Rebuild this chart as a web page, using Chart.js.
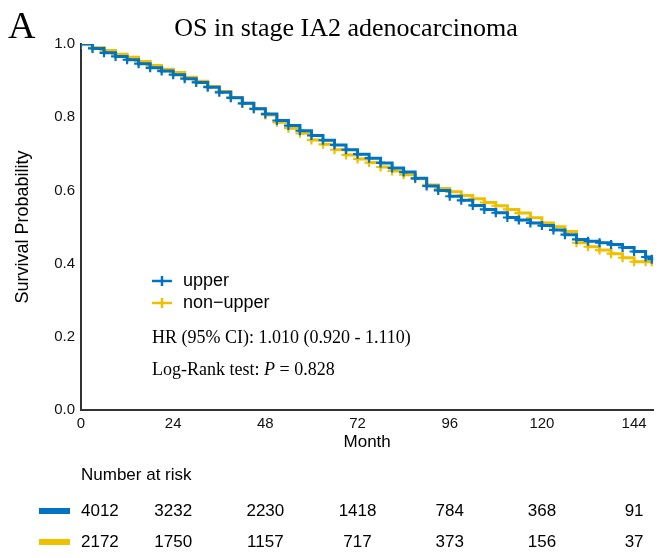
<!DOCTYPE html>
<html>
<head>
<meta charset="utf-8">
<script src="https://cdn.jsdelivr.net/npm/chart.js@4/dist/chart.umd.min.js"></script>
<style>
  html, body { margin: 0; padding: 0; background: #fff; }
  #wrap { width: 660px; height: 558px; position: relative; }
</style>
</head>
<body>
<div id="wrap"><canvas id="km" width="660" height="558"></canvas></div>
<script>
const months = [0, 3, 6, 9, 12, 15, 18, 21, 24, 27, 30, 33, 36, 39, 42, 45, 48, 51, 54, 57, 60,
  63, 66, 69, 72, 75, 78, 81, 84, 87, 90, 93, 96, 99, 102, 105, 108, 111, 114, 117, 120,
  123, 126, 129, 132, 135, 138, 141, 144, 147, 148.6];

const upper = [1.000, 0.988, 0.976, 0.966, 0.957, 0.946, 0.935, 0.926, 0.916, 0.905, 0.895,
  0.882, 0.868, 0.853, 0.838, 0.823, 0.809, 0.791, 0.777, 0.763, 0.750,
  0.737, 0.724, 0.711, 0.699, 0.688, 0.675, 0.661, 0.650, 0.633, 0.612,
  0.600, 0.584, 0.573, 0.559, 0.548, 0.539, 0.526, 0.519, 0.511, 0.504,
  0.492, 0.479, 0.466, 0.461, 0.457, 0.452, 0.444, 0.433, 0.418, 0.412];

const nonUpper = [1.000, 0.990, 0.982, 0.972, 0.964, 0.952, 0.941, 0.931, 0.922, 0.909, 0.898,
  0.884, 0.870, 0.854, 0.838, 0.823, 0.806, 0.786, 0.770, 0.756, 0.738,
  0.726, 0.711, 0.697, 0.686, 0.676, 0.664, 0.653, 0.643, 0.632, 0.615,
  0.605, 0.596, 0.586, 0.577, 0.567, 0.558, 0.548, 0.538, 0.525, 0.511,
  0.501, 0.488, 0.457, 0.446, 0.437, 0.427, 0.416, 0.405, 0.405, 0.405];

const xTicks = [0, 24, 48, 72, 96, 120, 144];
const yTicks = [0, 0.2, 0.4, 0.6, 0.8, 1.0];

const groups = ['upper', 'non\u2212upper'];
const colors = ['#0073C2', '#EFC000'];
const riskUpper = [4012, 3232, 2230, 1418, 784, 368, 91];
const riskNonUpper = [2172, 1750, 1157, 717, 373, 156, 37];

const sans = '"Liberation Sans", Arial, sans-serif';
const serif = '"Liberation Serif", "Times New Roman", serif';

function toPoints(ys) {
  return months.map((m, i) => ({ x: m, y: ys[i] }));
}

// extra text: panel letter, title, legend, HR text and the risk table
const extras = {
  id: 'extras',
  afterDraw(chart) {
    const ctx = chart.ctx;
    const xs = chart.scales.x;
    ctx.save();
    ctx.fillStyle = '#000';
    ctx.textBaseline = 'alphabetic';

    ctx.font = '38px ' + serif;
    ctx.textAlign = 'left';
    ctx.fillText('A', 8, 38);

    ctx.font = '26px ' + serif;
    ctx.textAlign = 'center';
    ctx.fillText('OS in stage IA2 adenocarcinoma', 346, 36);

    // legend inside the plot
    const legY = [281, 303];
    groups.forEach((g, i) => {
      ctx.strokeStyle = colors[i];
      ctx.lineWidth = 2.5;
      ctx.beginPath();
      ctx.moveTo(152, legY[i]);
      ctx.lineTo(172, legY[i]);
      ctx.moveTo(162, legY[i] - 5);
      ctx.lineTo(162, legY[i] + 5);
      ctx.stroke();
      ctx.fillStyle = '#000';
      ctx.font = '18px ' + sans;
      ctx.textAlign = 'left';
      ctx.textBaseline = 'middle';
      ctx.fillText(g, 183, legY[i]);
    });

    ctx.textBaseline = 'alphabetic';
    ctx.font = '18px ' + serif;
    ctx.fillText('HR (95% CI): 1.010 (0.920 - 1.110)', 152, 343);
    let x = 152;
    const s1 = 'Log-Rank test: ';
    ctx.fillText(s1, x, 375);
    x += ctx.measureText(s1).width;
    ctx.font = 'italic 18px ' + serif;
    ctx.fillText('P', x, 375);
    x += ctx.measureText('P').width;
    ctx.font = '18px ' + serif;
    ctx.fillText(' = 0.828', x, 375);

    // number at risk
    ctx.font = '17px ' + sans;
    ctx.textBaseline = 'middle';
    ctx.fillText('Number at risk', 81, 475);
    const rows = [riskUpper, riskNonUpper];
    const rowY = [511, 542];
    rows.forEach((r, i) => {
      ctx.fillStyle = colors[i];
      ctx.fillRect(39, rowY[i] - 3, 31, 6);
      ctx.fillStyle = '#000';
      r.forEach((n, j) => {
        const px = xs.getPixelForValue(xTicks[j]);
        if (j === 0) {
          ctx.textAlign = 'left';
          ctx.fillText(String(n), 81, rowY[i]);
        } else {
          ctx.textAlign = 'center';
          ctx.fillText(String(n), px, rowY[i]);
        }
      });
    });
    ctx.restore();
  }
};

new Chart(document.getElementById('km'), {
  type: 'line',
  data: {
    datasets: [
      {
        label: groups[0],
        data: toPoints(upper),
        borderColor: colors[0],
        backgroundColor: colors[0],
        borderWidth: 3,
        stepped: true,
        pointStyle: 'cross',
        pointRadius: 4.5,
        pointBorderWidth: 2.2,
        pointHoverRadius: 4.5
      },
      {
        label: groups[1],
        data: toPoints(nonUpper),
        borderColor: colors[1],
        backgroundColor: colors[1],
        borderWidth: 3,
        stepped: true,
        pointStyle: 'cross',
        pointRadius: 4.5,
        pointBorderWidth: 2.2,
        pointHoverRadius: 4.5
      }
    ]
  },
  options: {
    responsive: false,
    animation: false,
    events: [],
    layout: { padding: { left: 12, top: 44, right: 2, bottom: 105 } },
    plugins: {
      legend: { display: false },
      tooltip: { enabled: false }
    },
    scales: {
      x: {
        type: 'linear',
        min: 0,
        max: 149,
        afterBuildTicks: axis => { axis.ticks = xTicks.map(v => ({ value: v })); },
        afterFit: s => { s.height = 43; },
        grid: { display: false, drawTicks: true, tickLength: 4, tickColor: '#333', tickWidth: 1.5 },
        border: { display: true, color: '#333', width: 2 },
        ticks: { color: '#111', font: { family: sans, size: 15 }, padding: 1, maxRotation: 0 },
        title: { display: true, text: 'Month', color: '#000', font: { family: sans, size: 17 }, padding: { top: 0, bottom: 0 } }
      },
      y: {
        min: 0,
        max: 1,
        afterBuildTicks: axis => { axis.ticks = yTicks.map(v => ({ value: v })); },
        afterFit: s => { s.width = 69; },
        grid: { display: false, drawTicks: true, tickLength: 4, tickColor: '#333', tickWidth: 1.5 },
        border: { display: true, color: '#333', width: 2 },
        ticks: { color: '#111', font: { family: sans, size: 15 }, padding: 2, callback: v => v.toFixed(1) },
        title: { display: true, text: 'Survival Probability', color: '#000', font: { family: sans, size: 18 }, padding: { top: 0, bottom: 0 } }
      }
    }
  },
  plugins: [extras]
});
</script>
</body>
</html>
